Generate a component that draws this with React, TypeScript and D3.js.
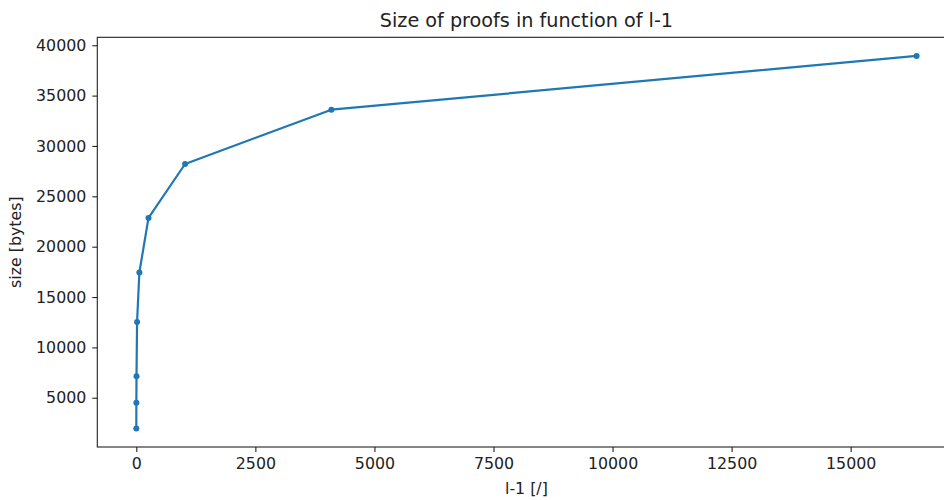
import React, { useEffect, useRef } from 'react';
import * as d3 from 'd3';

// l-1 values and proof sizes
const lMinusOne = [0, 1, 4, 16, 64, 256, 1024, 4096, 16384];
const sizeBytes = [1960, 4500, 7140, 12530, 17440, 22860, 28210, 33600, 38940];
const xTicks = [0, 2500, 5000, 7500, 10000, 12500, 15000];
const yTicks = [5000, 10000, 15000, 20000, 25000, 30000, 35000, 40000];

const title = 'Size of proofs in function of l-1';
const xLabel = 'l-1 [/]';
const yLabel = 'size [bytes]';

const App = () => {
  const svgRef = useRef<SVGSVGElement | null>(null);

  useEffect(() => {
    const svg = d3.select(svgRef.current);
    svg.selectAll('*').remove();

    const width = 944;
    const height = 500;
    const left = 97.3;
    const right = 955.6;
    const top = 37.3;
    const bottom = 447;
    const font = '"DejaVu Sans", sans-serif';
    const textColor = '#222';
    const tickFont = 15.8;

    const data = lMinusOne.map((x, i) => ({ x, y: sizeBytes[i] }));

    // matplotlib style 5% margins
    const xMin = d3.min(lMinusOne)!;
    const xMax = d3.max(lMinusOne)!;
    const yMin = d3.min(sizeBytes)!;
    const yMax = d3.max(sizeBytes)!;
    const xPad = (xMax - xMin) * 0.05;
    const yPad = (yMax - yMin) * 0.05;

    const x = d3.scaleLinear().domain([xMin - xPad, xMax + xPad]).range([left, right]);
    const y = d3.scaleLinear().domain([yMin - yPad, yMax + yPad]).range([bottom, top]);

    svg.attr('width', width).attr('height', height);
    svg.append('rect').attr('width', width).attr('height', height).attr('fill', '#fff');

    // X axis
    const xAxis = svg.append('g')
      .attr('transform', `translate(0,${bottom})`)
      .call(d3.axisBottom(x).tickValues(xTicks).tickSize(5).tickPadding(6).tickFormat(d3.format('d')));
    xAxis.select('.domain').remove();
    xAxis.selectAll('line').attr('stroke', '#222').attr('stroke-width', 1.1);
    xAxis.selectAll('text')
      .attr('font-family', font)
      .attr('font-size', tickFont)
      .attr('fill', textColor);

    // Y axis
    const yAxis = svg.append('g')
      .attr('transform', `translate(${left},0)`)
      .call(d3.axisLeft(y).tickValues(yTicks).tickSize(5).tickPadding(6).tickFormat(d3.format('d')));
    yAxis.select('.domain').remove();
    yAxis.selectAll('line').attr('stroke', '#222').attr('stroke-width', 1.1);
    yAxis.selectAll('text')
      .attr('font-family', font)
      .attr('font-size', tickFont)
      .attr('fill', textColor);

    // Spines
    svg.append('rect')
      .attr('x', left)
      .attr('y', top)
      .attr('width', right - left)
      .attr('height', bottom - top)
      .attr('fill', 'none')
      .attr('stroke', '#222')
      .attr('stroke-width', 1.1);

    // Line and markers
    const line = d3.line<{ x: number; y: number }>().x(d => x(d.x)).y(d => y(d.y));
    svg.append('path')
      .datum(data)
      .attr('fill', 'none')
      .attr('stroke', '#1f77b4')
      .attr('stroke-width', 2.2)
      .attr('stroke-linejoin', 'round')
      .attr('d', line);

    svg.append('g')
      .selectAll('circle')
      .data(data)
      .enter()
      .append('circle')
      .attr('cx', d => x(d.x))
      .attr('cy', d => y(d.y))
      .attr('r', 3)
      .attr('fill', '#1f77b4');

    // Title and labels
    svg.append('text')
      .attr('x', (left + right) / 2)
      .attr('y', 27)
      .attr('text-anchor', 'middle')
      .attr('font-family', font)
      .attr('font-size', 19.2)
      .attr('fill', textColor)
      .text(title);

    svg.append('text')
      .attr('x', (left + right) / 2)
      .attr('y', 494)
      .attr('text-anchor', 'middle')
      .attr('font-family', font)
      .attr('font-size', tickFont)
      .attr('fill', textColor)
      .text(xLabel);

    svg.append('text')
      .attr('transform', `translate(21,${(top + bottom) / 2}) rotate(-90)`)
      .attr('text-anchor', 'middle')
      .attr('font-family', font)
      .attr('font-size', tickFont)
      .attr('fill', textColor)
      .text(yLabel);
  }, []);

  return (
    <svg
      ref={svgRef}
      width={944}
      height={500}
      style={{ position: 'absolute', left: 0, top: 0 }}
    ></svg>
  );
};

export default App;
